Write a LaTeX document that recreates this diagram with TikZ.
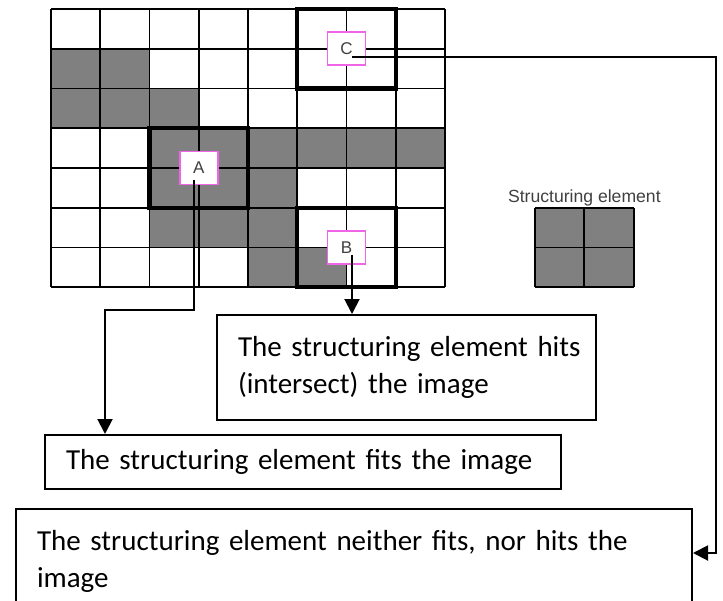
\documentclass[tikz,border=0pt]{standalone}
\usepackage{fontspec}
\setmainfont{Carlito}
\newfontfamily\arialfont{Liberation Sans}
\usetikzlibrary{arrows.meta,positioning,calc}
\definecolor{cellgray}{RGB}{128,128,128}
\definecolor{probepink}{RGB}{240,100,230}
\definecolor{inkgray}{RGB}{64,64,64}

\begin{document}
\begin{tikzpicture}[
  x=0.5pt, y=-0.5pt,
  font=\fontsize{14.5}{18.5}\selectfont,
  cell/.style={fill=cellgray},
  gridline/.style={line width=0.9pt},
  window/.style={line width=2.2pt},
  probe/.style={draw=probepink, fill=white, line width=0.9pt, minimum width=19pt, minimum height=16.5pt, inner sep=0pt, font=\arialfont\fontsize{8.5}{8.5}\selectfont, text=inkgray},
  note/.style={draw, line width=1pt, anchor=north west, align=left, inner xsep=10.5pt, inner ysep=0pt},
  arr/.style={-{Triangle[width=7.5pt,length=7.5pt]}, line width=1pt},
]
\useasboundingbox (0,0) rectangle (723,600);
% binary image, 8 x 7 pixels
\begin{scope}[shift={(51,9)}, x=24.625pt, y=-19.875pt]
  \foreach \c/\r in {0/1,1/1,0/2,1/2,2/2,2/3,3/3,4/3,5/3,6/3,7/3,2/4,3/4,4/4,2/5,3/5,4/5,4/6,5/6}
    \fill[cell] (\c,\r) rectangle ++(1,1);
  \foreach \c in {0,...,8} \draw[gridline] (\c,0) -- (\c,7);
  \foreach \r in {0,...,7} \draw[gridline] (0,\r) -- (8,\r);
  % element at three positions
  \draw[window] (5,0) rectangle (7,2);
  \draw[window] (2,3) rectangle (4,5);
  \draw[window] (5,5) rectangle (7,7);
  \node[probe] (lblC) at (6,1) {C};
  \node[probe] (lblA) at (3,4) {A};
  \node[probe] (lblB) at (6,6) {B};
  % 2 x 2 structuring element
  \begin{scope}[shift={(9.83,5)}]
    \fill[cell] (0,0) rectangle (2,2);
    \foreach \k in {0,1,2} {
      \draw[gridline] (\k,0) -- (\k,2);
      \draw[gridline] (0,\k) -- (2,\k);
    }
    \coordinate (se) at (1,0);
  \end{scope}
\end{scope}
\node[font=\arialfont\fontsize{8.8}{10}\selectfont, text=inkgray, inner sep=0.5pt, above=0pt of se] (setitle) {Structuring element};

% outcome boxes
\node[note, minimum height=52.5pt, text width=168.5pt] (hits) at (216,314) {\mbox{The structuring element hits}\\(intersect) the image};
\node[note, minimum height=27pt, text width=237pt] (fits) at (44,434) {The structuring element fits the image};
\node[note, minimum height=52.5pt, text width=317pt] (neither) at (15,508) {The structuring element neither fits, nor hits the\\image};

% connectors
\coordinate (abend) at (105,310);
\draw[arr] ([xshift=-2.4pt,yshift=-6pt]lblA.center) |- (abend) -- (abend |- fits.north);
\draw[arr] ([xshift=2.75pt,yshift=-3.75pt]lblB.center) coordinate (bfoot) -- (bfoot |- hits.north);
\coordinate (cdrop) at (716,553);
\draw[arr] ([xshift=2.75pt,yshift=-4pt]lblC.center) -| (cdrop) -- (cdrop -| neither.east);
\end{tikzpicture}
\end{document}
